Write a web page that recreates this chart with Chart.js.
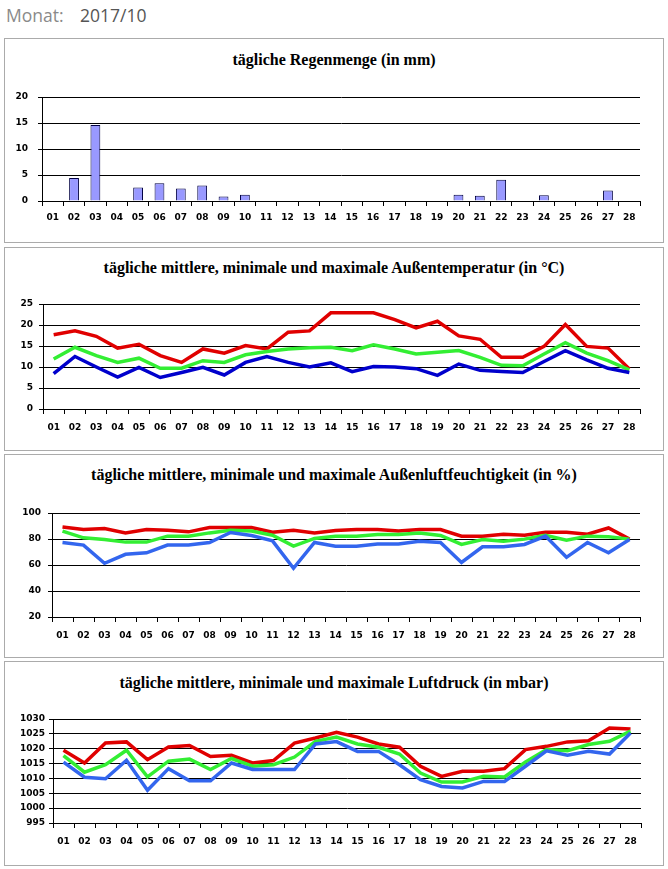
<!DOCTYPE html>
<html><head><meta charset="utf-8">
<script src="https://cdn.jsdelivr.net/npm/chart.js@4"></script>
<style>
html,body{margin:0;padding:0;background:#fff;width:668px;height:869px;overflow:hidden;}
#hdr{position:absolute;left:6px;top:3px;font-family:"Open Sans",sans-serif;font-size:17.5px;color:#8a8a8a;white-space:pre;}
#hdr span{color:#555;position:absolute;left:74px;top:0;}
.panel{position:absolute;left:4px;width:658px;border:1px solid #ababab;}
.ttl{position:absolute;left:4px;width:660px;text-align:center;font-family:"Liberation Serif",serif;font-weight:bold;font-size:16px;color:#000;line-height:18px;}
canvas{position:absolute;left:5px;}
</style></head><body>
<div id="hdr">Monat:<span>2017/10</span></div>
<div class="panel" style="top:38px;height:203px"></div>
<div class="panel" style="top:247px;height:202px"></div>
<div class="panel" style="top:454px;height:202px"></div>
<div class="panel" style="top:661px;height:203px"></div>
<div class="ttl" style="top:51px">tägliche Regenmenge (in mm)</div>
<div class="ttl" style="top:259px">tägliche mittlere, minimale und maximale Außentemperatur (in °C)</div>
<div class="ttl" style="top:466px">tägliche mittlere, minimale und maximale Außenluftfeuchtigkeit (in %)</div>
<div class="ttl" style="top:674px">tägliche mittlere, minimale und maximale Luftdruck (in mbar)</div>
<canvas id="c1" width="657" height="203" style="top:39px"></canvas>
<canvas id="c2" width="657" height="202" style="top:248px"></canvas>
<canvas id="c3" width="657" height="202" style="top:455px"></canvas>
<canvas id="c4" width="657" height="203" style="top:662px"></canvas>
<script>
const days = ["01","02","03","04","05","06","07","08","09","10","11","12","13","14","15","16","17","18","19","20","21","22","23","24","25","26","27","28"];

const rain = [0,4.4,14.6,0,2.6,3.4,2.4,3.0,0.85,1.2,0,0,0,0,0,0,0,0,0,1.2,1.0,4.1,0,1.1,0,0,2.0,0];

const tempMax  = [17.7,18.6,17.3,14.5,15.4,12.7,11.1,14.3,13.3,15.1,14.3,18.3,18.6,22.9,22.9,22.9,21.3,19.3,20.9,17.4,16.6,12.3,12.3,14.9,20.1,14.9,14.5,9.5];
const tempMean = [11.9,14.7,12.7,11.1,12.1,9.7,9.7,11.5,11.1,12.9,13.7,14.3,14.6,14.7,13.9,15.3,14.3,13.1,13.5,13.9,12.3,10.4,10.3,13.1,15.8,13.3,11.5,9.3];
const tempMin  = [8.4,12.5,10.0,7.6,9.9,7.5,8.7,9.9,8.1,11.1,12.5,11.1,10.0,11.0,8.9,10.1,10.0,9.6,8.0,10.7,9.2,8.9,8.7,11.3,13.9,11.7,9.7,8.7];

const humMax  = [89.3,87.3,88.0,84.7,87.3,86.8,85.5,88.8,88.8,88.8,85.2,86.8,84.7,86.5,87.3,87.3,86.2,87.3,87.3,82.2,82.2,83.7,82.9,85.2,85.2,83.7,88.5,79.9];
const humMean = [86.0,80.9,79.6,77.6,77.6,82.2,82.2,84.7,86.8,86.2,82.9,74.5,80.4,82.2,82.2,83.4,83.4,84.7,82.7,75.8,79.6,78.3,79.9,82.9,79.1,82.2,81.7,79.9];
const humMin  = [77.3,75.3,61.3,68.2,69.4,75.3,75.3,77.3,85.0,82.7,78.6,57.5,77.3,74.5,74.5,76.1,76.1,78.3,77.3,62.0,74.0,74.0,75.8,82.2,65.9,77.3,69.4,79.6];

const presMax  = [1019.5,1015.2,1021.9,1022.3,1016.3,1020.6,1021.1,1017.4,1017.8,1015.2,1016.0,1021.9,1023.6,1025.5,1023.9,1021.6,1020.5,1014.1,1010.7,1012.4,1012.4,1013.3,1019.7,1020.8,1022.3,1022.7,1027.0,1026.6];
const presMean = [1017.7,1012.1,1014.6,1019.5,1010.5,1015.8,1016.5,1013.0,1016.7,1014.1,1014.6,1017.2,1022.5,1023.9,1021.6,1020.5,1018.2,1011.8,1008.8,1008.8,1010.7,1010.5,1015.5,1019.7,1019.3,1021.4,1022.5,1025.9];
const presMin  = [1015.5,1010.4,1009.9,1016.1,1006.0,1013.3,1009.2,1009.2,1015.2,1013.0,1013.0,1013.0,1021.6,1022.4,1019.1,1019.1,1014.6,1009.6,1007.3,1006.8,1009.0,1009.0,1014.1,1019.3,1017.8,1019.1,1018.2,1025.3];

const RED = "#e00000", GREEN = "#33ee33", DBLUE = "#0000cc", LBLUE = "#3366ee", BARFILL = "#9999ff";
const tickFont = {family:"DejaVu Sans", weight:"bold", size:9};

function build(id, canvasTop, canvasH, plot, type, datasets, ymin, ymax, ystep, ypad){
  const canvasLeft = 5, canvasRight = 662;
  const yW = plot.left - canvasLeft;
  const xH = canvasTop + canvasH - plot.bottom;
  const tickLen = 5;
  const xPad = Math.round(plot.label - 5.4 - plot.bottom - tickLen);
  return new Chart(document.getElementById(id), {
    type: type,
    data: {labels: days, datasets: datasets},
    options: {
      responsive: false, animation: false,
      layout: {padding: {left: 0, right: canvasRight - plot.right, top: plot.top - canvasTop, bottom: 0}},
      plugins: {legend: {display: false}, title: {display: false}, tooltip: {enabled: false}},
      scales: {
        x: {
          offset: true,
          grid: {display: true, offset: true, drawOnChartArea: false, drawTicks: true, tickLength: tickLen, color: "#000", lineWidth: 1},
          border: {display: true, color: "#000", width: 1},
          ticks: {autoSkip: false, maxRotation: 0, minRotation: 0, padding: xPad, color: "#000", font: tickFont},
          afterFit: s => { s.height = xH; }
        },
        y: {
          min: ymin, max: ymax,
          grid: {color: "#000", lineWidth: 1, drawTicks: true, tickLength: 4},
          border: {display: true, color: "#000", width: 1},
          ticks: {stepSize: ystep, padding: ypad, color: "#000", font: tickFont, callback: v => String(v)},
          afterFit: s => { s.width = yW; }
        }
      }
    }
  });
}

function line(data, color){
  return {data: data, borderColor: color, backgroundColor: color, borderWidth: 3.5, pointRadius: 0, tension: 0, fill: false};
}

build("c1", 39, 203, {left: 42, right: 640, top: 97, bottom: 201, label: 217}, "bar",
  [{data: rain, backgroundColor: BARFILL, borderColor: "#000040", borderWidth: 1, barPercentage: 0.46, categoryPercentage: 1}],
  0, 20, 5, 10);

build("c2", 248, 202, {left: 43, right: 640, top: 304, bottom: 409, label: 427}, "line",
  [line(tempMin, DBLUE), line(tempMean, GREEN), line(tempMax, RED)],
  0, 25, 5, 6);

build("c3", 455, 202, {left: 52, right: 640, top: 513, bottom: 617, label: 635}, "line",
  [line(humMin, LBLUE), line(humMean, GREEN), line(humMax, RED)],
  20, 100, 20, 7);

build("c4", 662, 203, {left: 53, right: 641, top: 719, bottom: 823, label: 841}, "line",
  [line(presMin, LBLUE), line(presMean, GREEN), line(presMax, RED)],
  995, 1030, 5, 4);
</script>
</body></html>
